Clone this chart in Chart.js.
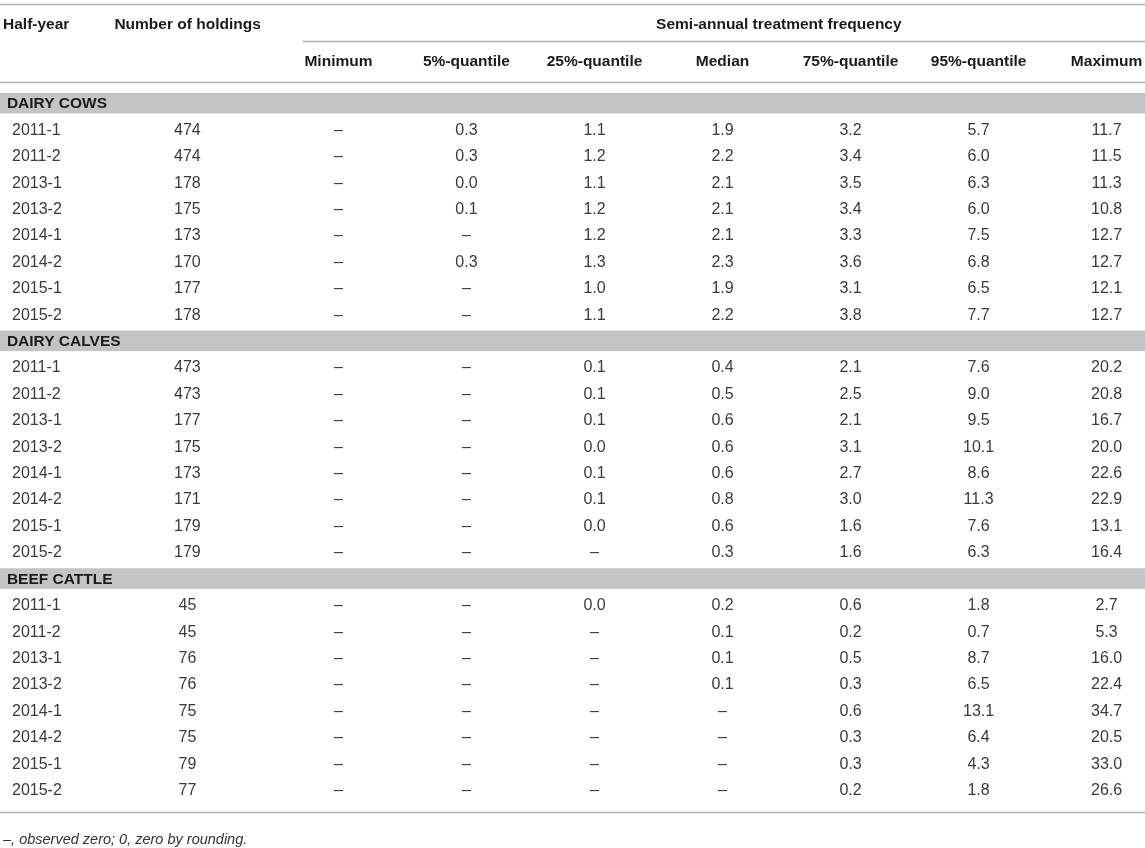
<!DOCTYPE html>
<html>
<head>
<meta charset="utf-8">
<title>Semi-annual treatment frequency</title>
<script src="https://cdn.jsdelivr.net/npm/chart.js@4.4.1/dist/chart.umd.min.js"></script>
<style>
  html, body { margin: 0; padding: 0; background: #fff; }
  #wrap { position: relative; width: 1145px; height: 848px; }
</style>
</head>
<body>
<div id="wrap"><canvas id="tabla"></canvas></div>
<script>
// ==============================
// DATA
// ==============================
const O = null; // observed zero, printed as "–"

const halfYears = ['2011-1', '2011-2', '2013-1', '2013-2', '2014-1', '2014-2', '2015-1', '2015-2'];
const groupNames = ['DAIRY COWS', 'DAIRY CALVES', 'BEEF CATTLE'];
const statNames = ['Minimum', '5%-quantile', '25%-quantile', 'Median', '75%-quantile', '95%-quantile', 'Maximum'];
const spanTitle = 'Semi-annual treatment frequency';
const footnote = '–, observed zero; 0, zero by rounding.';

// dairy cows
const cowsHoldings = [474, 474, 178, 175, 173, 170, 177, 178];
const cowsMin = [O, O, O, O, O, O, O, O];
const cowsQ05 = [0.3, 0.3, 0.0, 0.1, O, 0.3, O, O];
const cowsQ25 = [1.1, 1.2, 1.1, 1.2, 1.2, 1.3, 1.0, 1.1];
const cowsMed = [1.9, 2.2, 2.1, 2.1, 2.1, 2.3, 1.9, 2.2];
const cowsQ75 = [3.2, 3.4, 3.5, 3.4, 3.3, 3.6, 3.1, 3.8];
const cowsQ95 = [5.7, 6.0, 6.3, 6.0, 7.5, 6.8, 6.5, 7.7];
const cowsMax = [11.7, 11.5, 11.3, 10.8, 12.7, 12.7, 12.1, 12.7];

// dairy calves
const calvesHoldings = [473, 473, 177, 175, 173, 171, 179, 179];
const calvesMin = [O, O, O, O, O, O, O, O];
const calvesQ05 = [O, O, O, O, O, O, O, O];
const calvesQ25 = [0.1, 0.1, 0.1, 0.0, 0.1, 0.1, 0.0, O];
const calvesMed = [0.4, 0.5, 0.6, 0.6, 0.6, 0.8, 0.6, 0.3];
const calvesQ75 = [2.1, 2.5, 2.1, 3.1, 2.7, 3.0, 1.6, 1.6];
const calvesQ95 = [7.6, 9.0, 9.5, 10.1, 8.6, 11.3, 7.6, 6.3];
const calvesMax = [20.2, 20.8, 16.7, 20.0, 22.6, 22.9, 13.1, 16.4];

// beef cattle
const beefHoldings = [45, 45, 76, 76, 75, 75, 79, 77];
const beefMin = [O, O, O, O, O, O, O, O];
const beefQ05 = [O, O, O, O, O, O, O, O];
const beefQ25 = [0.0, O, O, O, O, O, O, O];
const beefMed = [0.2, 0.1, 0.1, 0.1, O, O, O, O];
const beefQ75 = [0.6, 0.2, 0.5, 0.3, 0.6, 0.3, 0.3, 0.2];
const beefQ95 = [1.8, 0.7, 8.7, 6.5, 13.1, 6.4, 4.3, 1.8];
const beefMax = [2.7, 5.3, 16.0, 22.4, 34.7, 20.5, 33.0, 26.6];

const groups = [
    { holdings: cowsHoldings, stats: [cowsMin, cowsQ05, cowsQ25, cowsMed, cowsQ75, cowsQ95, cowsMax] },
    { holdings: calvesHoldings, stats: [calvesMin, calvesQ05, calvesQ25, calvesMed, calvesQ75, calvesQ95, calvesMax] },
    { holdings: beefHoldings, stats: [beefMin, beefQ05, beefQ25, beefMed, beefQ75, beefQ95, beefMax] }
];

// ==============================
// LAYOUT (column / row units of the scales)
// ==============================
const FONT = '"Liberation Sans", Arial, Helvetica, sans-serif';
const COL_LABEL = -0.55;   // half-year column (left aligned)
const COL_HOLD = 0.82;     // number of holdings
const COL_STAT0 = 2;       // first statistic column
const ROW_TITLE = -3;      // first header line
const ROW_SUB = -1.6;      // second header line
const ROWS_PER_GROUP = halfYears.length + 1;

const fmt = v => (v === null ? '–' : v.toFixed(1));

// ==============================
// DATASETS (one per text column)
// ==============================
function textColumn(x, texts, rows, opts) {
    return Object.assign({
        data: rows.map(r => ({ x: x, y: r })),
        texts: texts,
        pointRadius: 0,
        align: 'center',
        weight: 'normal',
        size: 16,
        color: '#3a3a3a'
    }, opts || {});
}

const dataRows = [];
groups.forEach((g, gi) => {
    halfYears.forEach((h, i) => dataRows.push(gi * ROWS_PER_GROUP + 1 + i));
});
const bandRows = groupNames.map((n, gi) => gi * ROWS_PER_GROUP);
const head = { weight: 'bold', size: 15.5, color: '#1a1a1a' };

const datasets = [];
// half-year labels
datasets.push(textColumn(COL_LABEL, groups.flatMap(() => halfYears), dataRows, { align: 'left' }));
// holdings
datasets.push(textColumn(COL_HOLD, groups.flatMap(g => g.holdings.map(String)), dataRows));
// statistics
statNames.forEach((s, si) => {
    datasets.push(textColumn(COL_STAT0 + si, groups.flatMap(g => g.stats[si].map(fmt)), dataRows));
});
// section names
datasets.push(textColumn(COL_LABEL - 0.04, groupNames, bandRows, Object.assign({ align: 'left' }, head)));
// headers
datasets.push(textColumn(COL_LABEL - 0.07, ['Half-year'], [ROW_TITLE], Object.assign({ align: 'left' }, head)));
datasets.push(textColumn(COL_HOLD - 0.57, ['Number of holdings'], [ROW_TITLE], Object.assign({ align: 'left' }, head)));
datasets.push(textColumn(5.44, [spanTitle], [ROW_TITLE], head));
const statHead = textColumn(COL_STAT0, statNames, statNames.map(() => ROW_SUB), head);
statHead.data = statNames.map((s, si) => ({ x: COL_STAT0 + si, y: ROW_SUB }));
datasets.push(statHead);
// footnote
datasets.push(textColumn(COL_LABEL - 0.07, [footnote], [27.87],
    { align: 'left', style: 'italic', size: 14.5, color: '#333333' }));

// ==============================
// PLUGIN: rules, bands and cell text
// ==============================
const tablePlugin = {
    id: 'tablePlugin',
    beforeDatasetsDraw(chart) {
        const ctx = chart.ctx;
        const x = chart.scales.x;
        const y = chart.scales.y;
        ctx.save();
        // grey group bands
        ctx.fillStyle = '#c4c4c6';
        bandRows.forEach(r => {
            const top = y.getPixelForValue(r - 0.42);
            const bot = y.getPixelForValue(r + 0.36);
            ctx.fillRect(0, top, chart.width, bot - top);
        });
        // horizontal rules
        ctx.strokeStyle = '#b0b0b0';
        ctx.lineWidth = 1.5;
        const rule = (r, x0) => {
            const py = Math.round(y.getPixelForValue(r)) + 0.5;
            ctx.beginPath();
            ctx.moveTo(x0, py);
            ctx.lineTo(chart.width, py);
            ctx.stroke();
        };
        rule(-3.79, 0);
        rule(-2.37, x.getPixelForValue(1.72));
        rule(-0.83, 0);
        rule(26.81, 0);
        ctx.restore();
    },
    afterDatasetsDraw(chart) {
        const ctx = chart.ctx;
        ctx.save();
        ctx.textBaseline = 'middle';
        chart.data.datasets.forEach((ds, i) => {
            const meta = chart.getDatasetMeta(i);
            ctx.font = (ds.style || 'normal') + ' ' + ds.weight + ' ' + ds.size + 'px ' + FONT;
            ctx.fillStyle = ds.color;
            ctx.textAlign = ds.align;
            meta.data.forEach((el, j) => {
                ctx.fillText(ds.texts[j], el.x, el.y);
            });
        });
        ctx.restore();
    }
};

// ==============================
// CHART
// ==============================
const chartTabla = new Chart(document.getElementById('tabla').getContext('2d'), {
    type: 'scatter',
    data: { datasets: datasets },
    options: {
        responsive: true,
        maintainAspectRatio: false,
        animation: false,
        events: [],
        layout: { padding: { left: 12, right: 0, top: 1, bottom: 2 } },
        plugins: {
            legend: { display: false },
            tooltip: { enabled: false }
        },
        scales: {
            x: { type: 'linear', min: -0.55, max: 8.3, display: false },
            y: { type: 'linear', min: -3.9, max: 28.1, reverse: true, display: false }
        }
    },
    plugins: [tablePlugin]
});
</script>
</body>
</html>
